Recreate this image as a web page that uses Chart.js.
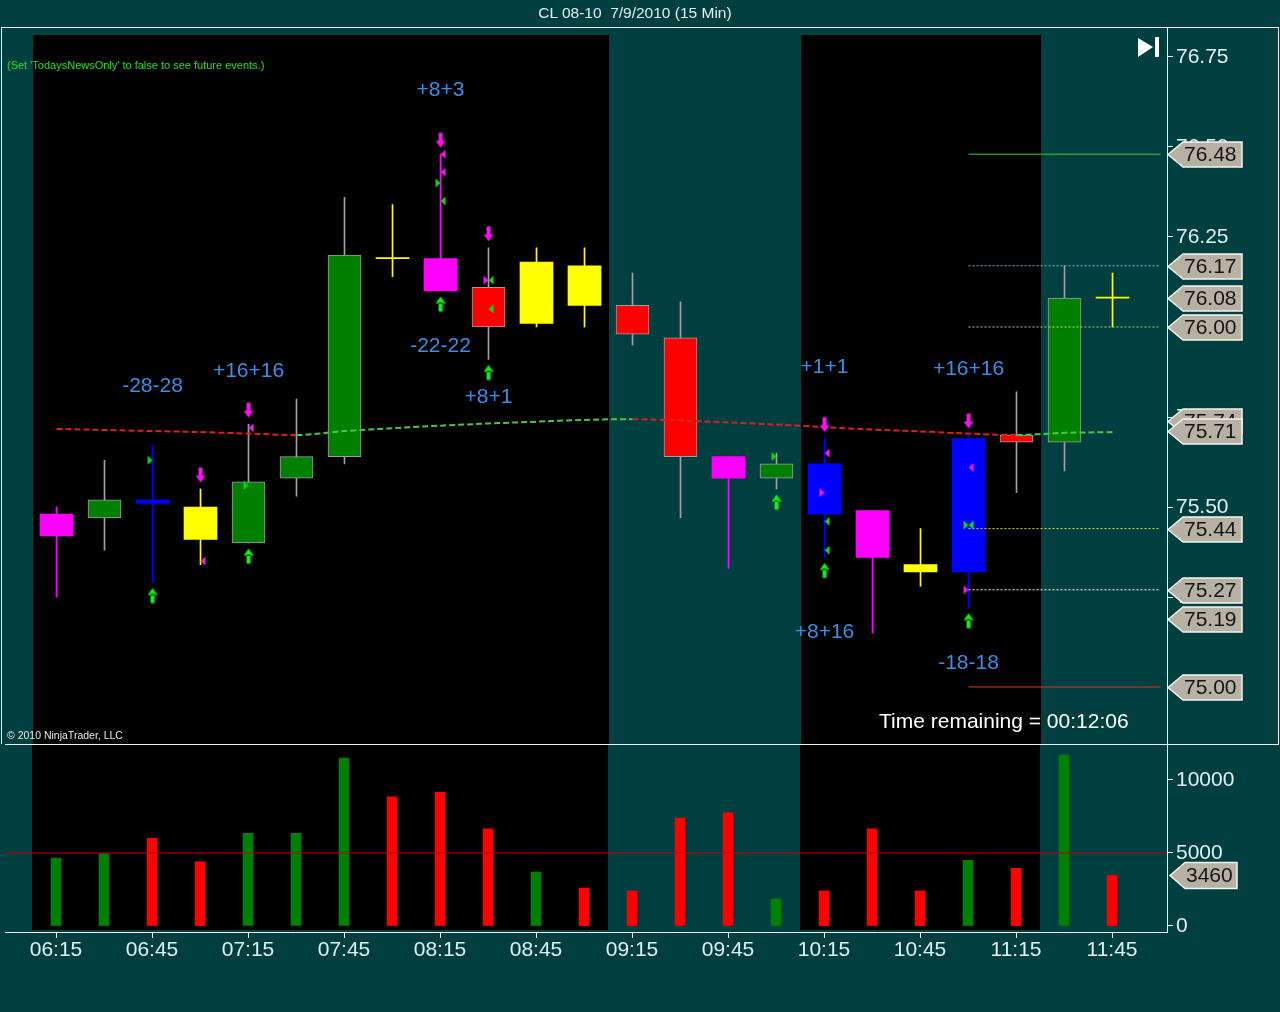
<!DOCTYPE html>
<html>
<head>
<meta charset="utf-8">
<title>CL 08-10 7/9/2010 (15 Min)</title>
<script src="https://cdn.jsdelivr.net/npm/chart.js@4.4.1/dist/chart.umd.min.js"></script>
<style>
html,body{margin:0;padding:0;background:#003f3f;}
#wrap{position:relative;width:1280px;height:1012px;background:#003f3f;overflow:hidden;font-family:"Liberation Sans",Arial,sans-serif;}
canvas{position:absolute;left:0;}
#pc{top:0;}
#vc{top:744px;}
.t{position:absolute;white-space:nowrap;z-index:3;}
.ln{position:absolute;background:#f0f0f0;z-index:2;}
</style>
</head>
<body>
<div id="wrap">
<canvas id="vc" width="1280" height="268"></canvas>
<canvas id="pc" width="1280" height="744"></canvas>
<div class="ln" style="left:1px;top:27px;width:1278px;height:1px"></div>
<div class="ln" style="left:1px;top:27px;width:1px;height:717px"></div>
<div class="ln" style="left:1278px;top:27px;width:1px;height:717px"></div>
<div class="ln" style="left:5px;top:744px;width:1274px;height:1px"></div>
<div class="t" style="left:0;width:1270px;text-align:center;top:5px;font-size:15.5px;line-height:15.5px;color:#e4eeee">CL 08-10&nbsp; 7/9/2010 (15 Min)</div>
<div class="t" style="left:7px;top:60px;font-size:11px;line-height:11px;color:#22e022">(Set 'TodaysNewsOnly' to false to see future events.)</div>
<div class="t" style="left:7px;top:730px;font-size:10.5px;line-height:10.5px;color:#e8e8e8">© 2010 NinjaTrader, LLC</div>
<div class="t" style="left:879px;top:710px;font-size:21px;line-height:21px;color:#ffffff">Time remaining = 00:12:06</div>
</div>
<script>
// ---------------- data ----------------
const times   = ['06:15','06:30','06:45','07:00','07:15','07:30','07:45','08:00','08:15','08:30','08:45','09:00','09:15','09:30','09:45','10:00','10:15','10:30','10:45','11:00','11:15','11:30','11:45'];
const opens   = [75.42,75.47,75.52,75.50,75.40,75.58,75.64,76.19,76.19,76.11,76.01,76.17,76.06,75.97,75.64,75.58,75.62,75.49,75.34,75.32,75.70,75.68,76.08];
const highs   = [75.50,75.63,75.67,75.55,75.73,75.80,76.36,76.34,76.48,76.22,76.22,76.22,76.15,76.07,75.64,75.65,75.69,75.49,75.44,75.70,75.82,76.17,76.15];
const lows    = [75.25,75.38,75.29,75.34,75.40,75.53,75.62,76.14,76.10,75.91,76.00,76.00,75.95,75.47,75.33,75.55,75.36,75.15,75.28,75.22,75.54,75.60,76.00];
const closes  = [75.48,75.52,75.51,75.41,75.57,75.64,76.20,76.19,76.10,76.00,76.18,76.06,75.98,75.64,75.58,75.62,75.48,75.36,75.32,75.69,75.68,76.08,76.08];
const paint   = ['magenta','green','blue','yellow','green','green','green','yellow','magenta','red','yellow','yellow','red','red','magenta','green','blue','magenta','yellow','blue','red','green','yellow'];
const volumes = [4650,4950,6000,4400,6350,6350,11500,8850,9150,6650,3700,2600,2400,7400,7750,1850,2400,6650,2400,4500,3950,11700,3460];
const sma     = [75.717,75.714,75.711,75.708,75.704,75.700,75.711,75.719,75.726,75.732,75.737,75.742,75.744,75.740,75.735,75.729,75.722,75.715,75.710,75.704,75.700,75.706,75.708];
const priceTicks  = [75.00,75.25,75.50,75.75,76.00,76.25,76.50,76.75];
const volumeTicks = [0,5000,10000];
const timeTickBars = [0,2,4,6,8,10,12,14,16,18,20,22];
const shadeRanges = [['06:15','09:00'],['10:15','11:15']];
const sellBars = [3,4,8,9,16,19];
const buyBars  = [2,4,8,9,15,16,19];
const fillsMagentaLeft  = [[3,75.35],[4,75.72],[8,76.48],[8,76.43],[16,75.65],[19,75.61]];
const fillsMagentaRight = [[9,76.13],[16,75.54],[19,75.27]];
const fillsGreenLeft    = [[8,76.35],[9,76.13],[9,76.05],[16,75.46],[16,75.38],[19,75.45]];
const fillsGreenRight   = [[2,75.63],[4,75.56],[8,76.40],[15,75.64],[19,75.45]];
const levelPrices = [76.48,76.17,76.00,75.44,75.27,75.00];
const levelFrom = '11:00';
const priceTags = [76.48,76.17,76.08,76.00,75.74,75.71,75.44,75.27,75.19,75.00];
const volumeTag = 3460;
const annTexts  = ['+8+3','-28-28','+16+16','-22-22','+8+1','+1+1','+8+16','+16+16','-18-18'];
const annBars   = [8,2,4,8,9,16,16,19,19];
const annPrices = [76.658,75.836,75.878,75.947,75.806,75.889,75.153,75.883,75.067];

// ---------------- styles / layout ----------------
const X_MIN = -1.0625, X_MAX = 23.1458;
const X_MIN_P = X_MIN - 0.5/48, X_MAX_P = X_MAX - 0.5/48;
const P_MIN = 74.8417, P_MAX = 76.8333;
const V_MIN = -411, V_MAX = 12397;
const FONT = '"Liberation Sans", Arial, sans-serif';
const AXIS_TXT = '#e2f0f0';
const PAINT = {magenta:'#ff00ff',green:'#008000',blue:'#0000ff',yellow:'#ffff00',red:'#ff0000'};
const levelColors = ['#3ccf3c','#48c8e8','#b0e24a','#e6e03c','#ffffff','#e0301e'];
const levelDash = [[],[2,2],[2,2],[2,2],[2,2],[]];

const idx = times.map((t,i)=>i);
const bodyCol = paint.map(p=>PAINT[p]);
const outlined = paint.map(p=>p==='green'||p==='red');
const wickCol = paint.map((p,i)=>outlined[i]?'#a0a0a0':PAINT[p]);
const volCol = idx.map(i=>closes[i]>opens[i]?'#008000':'#ff0000');

function arrowImg(color, down, gap){
  const w=10, H=2*(gap+9);
  const c=document.createElement('canvas'); c.width=w; c.height=H;
  const g=c.getContext('2d'); g.fillStyle=color;
  const cy = down ? H/2-gap : H/2+gap;
  const top=cy-7.5, bot=cy+7.5;
  g.beginPath();
  if(down){ g.rect(3,top,4,9); g.moveTo(0,top+8); g.lineTo(10,top+8); g.lineTo(5,bot); }
  else    { g.rect(3,bot-9,4,9); g.moveTo(0,bot-8); g.lineTo(10,bot-8); g.lineTo(5,top); }
  g.closePath(); g.fill();
  return c;
}
function triImg(color, left){
  const c=document.createElement('canvas'); c.width=12; c.height=10;
  const g=c.getContext('2d'); g.fillStyle=color; g.beginPath();
  if(left){ g.moveTo(6,5); g.lineTo(11,0.5); g.lineTo(11,9.5); }
  else    { g.moveTo(6,5); g.lineTo(1,0.5);  g.lineTo(1,9.5); }
  g.closePath(); g.fill(); return c;
}
const imgSell = arrowImg('#ff10f0', true, 14);
const imgBuy  = arrowImg('#10f010', false, 13);
const imgML = triImg('#f020e8', true), imgMR = triImg('#f020e8', false);
const imgGL = triImg('#10d810', true), imgGR = triImg('#10d810', false);

function markerSet(label, pts, img){
  return {type:'line', label, data: pts.map(p=>({x:p[0],y:p[1]})), showLine:false,
          pointStyle: img, pointRadius: 6, order:0, clip:false};
}

function shadePlugin(topPx, bottomInset){
  return { id:'shade', beforeDatasetsDraw(chart){
    const {ctx, chartArea, scales:{x}} = chart;
    ctx.save(); ctx.fillStyle='#000000';
    const y0 = topPx==null ? chartArea.top : topPx;
    shadeRanges.forEach(([a,b])=>{
      const x0 = Math.round(x.getPixelForValue(times.indexOf(a)-0.5));
      const x1 = Math.round(x.getPixelForValue(times.indexOf(b)+0.5));
      ctx.fillRect(x0, y0, x1-x0, chartArea.bottom-bottomInset-y0);
    });
    ctx.restore();
  }};
}

function drawTag(ctx, xTip, y, text, w, h){
  const slant=15;
  ctx.beginPath();
  ctx.moveTo(xTip, y);
  ctx.lineTo(xTip+slant, y-h/2);
  ctx.lineTo(xTip+w, y-h/2);
  ctx.lineTo(xTip+w, y+h/2);
  ctx.lineTo(xTip+slant, y+h/2);
  ctx.closePath();
  ctx.fillStyle='#b6b1a2'; ctx.fill();
  ctx.strokeStyle='#f4f4f4'; ctx.lineWidth=1.5; ctx.stroke();
  ctx.fillStyle='#141414'; ctx.font='21px '+FONT; ctx.textAlign='left'; ctx.textBaseline='middle';
  ctx.fillText(text, xTip+slant+1, y+1);
}

const pricePlugin = { id:'priceExtras',
  afterDatasetsDraw(chart){
    const {ctx, scales:{x,y}} = chart;
    ctx.save();
    ctx.font='21px '+FONT; ctx.fillStyle='#3a8ee6'; ctx.textAlign='center'; ctx.textBaseline='middle';
    annTexts.forEach((t,k)=>ctx.fillText(t, x.getPixelForValue(annBars[k]), y.getPixelForValue(annPrices[k])));
    ctx.restore();
  },
  afterDraw(chart){
    const {ctx, chartArea, scales:{y}} = chart;
    ctx.save();
    priceTags.forEach(v=>drawTag(ctx, chartArea.right+1, Math.round(y.getPixelForValue(v))+0.5, v.toFixed(2), 74, 25));
    // "go to end" icon
    ctx.fillStyle='#ffffff';
    ctx.beginPath(); ctx.moveTo(1138,38); ctx.lineTo(1153,47); ctx.lineTo(1138,57); ctx.closePath(); ctx.fill();
    ctx.fillRect(1155,37,4,20);
    ctx.restore();
  }
};

const volPlugin = { id:'volExtras', afterDraw(chart){
  const {ctx, chartArea, scales:{y}} = chart;
  ctx.save();
  drawTag(ctx, chartArea.right+3, Math.round(y.getPixelForValue(volumeTag))+0.5, String(volumeTag), 67, 26);
  ctx.restore();
}};

const levelSets = levelPrices.map((v,k)=>({type:'line', label:'lvl'+k,
  data:[{x:times.indexOf(levelFrom), y:v},{x:times.length, y:v}],
  borderColor: levelColors[k], borderWidth:1, borderDash: levelDash[k], pointRadius:0, order:2, clip:false}));

new Chart(document.getElementById('pc'), {
  type:'bar',
  data:{ datasets:[
    markerSet('sell', sellBars.map(i=>[i,highs[i]]), imgSell),
    markerSet('buy',  buyBars.map(i=>[i,lows[i]]), imgBuy),
    markerSet('fml', fillsMagentaLeft, imgML),
    markerSet('fmr', fillsMagentaRight, imgMR),
    markerSet('fgl', fillsGreenLeft, imgGL),
    markerSet('fgr', fillsGreenRight, imgGR),
    {type:'line', label:'SMA', data: sma.map((v,i)=>({x:i,y:v})), borderWidth:2, borderDash:[6,3],
     pointRadius:0, borderColor:'#dc2020', cubicInterpolationMode:'monotone', order:1,
     segment:{borderColor: c => c.p1.parsed.y >= c.p0.parsed.y ? '#4cc44c' : '#dc2020'}},
    ...levelSets,
    {type:'bar', label:'body', data: idx.map(i=>({x:i, y:[Math.min(opens[i],closes[i]), Math.max(opens[i],closes[i])]})),
     backgroundColor: bodyCol, borderColor:'#a0a0a0', borderWidth: outlined.map(o=>o?1:0), borderSkipped:false,
     barThickness:33, grouped:false, minBarLength:1, order:3},
    {type:'bar', label:'wick', data: idx.map(i=>({x:i, y:[lows[i], highs[i]]})),
     backgroundColor: wickCol, borderWidth:0, barThickness:1, grouped:false, order:4}
  ]},
  options:{
    responsive:false, animation:false, events:[], devicePixelRatio:1,
    layout:{autoPadding:false, padding:{top:27,left:5,right:0,bottom:0}},
    plugins:{legend:{display:false}, tooltip:{enabled:false}},
    scales:{
      x:{type:'linear', min:X_MIN_P, max:X_MAX_P, offset:false, bounds:'data', display:false, grid:{offset:false}},
      y:{type:'linear', position:'right', min:P_MIN, max:P_MAX, beginAtZero:false, bounds:'data',
         afterBuildTicks: s => { s.ticks = priceTicks.map(v=>({value:v})); },
         afterFit: s => { s.width = 113; s.paddingTop = 0; s.paddingBottom = 0; },
         grid:{drawOnChartArea:false, drawTicks:true, tickLength:6, color:'#ffffff', tickColor:'#ffffff'},
         border:{display:true, color:'#f0f0f0', width:1},
         ticks:{color:AXIS_TXT, font:{family:FONT, size:21}, padding:3, autoSkip:false, callback: v => Number(v).toFixed(2)}}
    }
  },
  plugins:[shadePlugin(35, 0), pricePlugin]
});

new Chart(document.getElementById('vc'), {
  type:'bar',
  data:{ datasets:[
    {type:'line', label:'avg', data:[{x:X_MIN,y:5000},{x:X_MAX,y:5000}], borderColor:'#c40000', borderWidth:1, pointRadius:0, order:0},
    {type:'bar', label:'Volume', data: volumes.map((v,i)=>({x:i,y:v})), backgroundColor: volCol, borderWidth:0,
     barThickness:10, grouped:false, order:1}
  ]},
  options:{
    responsive:false, animation:false, events:[], devicePixelRatio:1,
    layout:{autoPadding:false, padding:{top:1,left:5,right:0,bottom:0}},
    plugins:{legend:{display:false}, tooltip:{enabled:false}},
    scales:{
      x:{type:'linear', position:'bottom', min:X_MIN, max:X_MAX, offset:false, bounds:'data',
         afterBuildTicks: s => { s.ticks = timeTickBars.map(i=>({value:i})); },
         afterFit: s => { s.height = 80; s.paddingLeft = 0; s.paddingRight = 0; },
         grid:{drawOnChartArea:false, drawTicks:true, tickLength:6, color:'#ffffff', tickColor:'#ffffff', offset:false},
         border:{display:true, color:'#f0f0f0', width:1},
         ticks:{color:AXIS_TXT, font:{family:FONT, size:21}, padding:0, autoSkip:false, maxRotation:0, minRotation:0,
                callback: v => times[v] || ''}},
      y:{type:'linear', position:'right', min:V_MIN, max:V_MAX, beginAtZero:false, bounds:'data',
         afterBuildTicks: s => { s.ticks = volumeTicks.map(v=>({value:v})); },
         afterFit: s => { s.width = 113; s.paddingTop = 0; s.paddingBottom = 0; },
         grid:{drawOnChartArea:false, drawTicks:true, tickLength:6, color:'#ffffff', tickColor:'#ffffff'},
         border:{display:true, color:'#f0f0f0', width:1},
         ticks:{color:AXIS_TXT, font:{family:FONT, size:21}, padding:3, autoSkip:false, callback: v => String(v)}}
    }
  },
  plugins:[shadePlugin(null, 2), volPlugin]
});
</script>
</body>
</html>
